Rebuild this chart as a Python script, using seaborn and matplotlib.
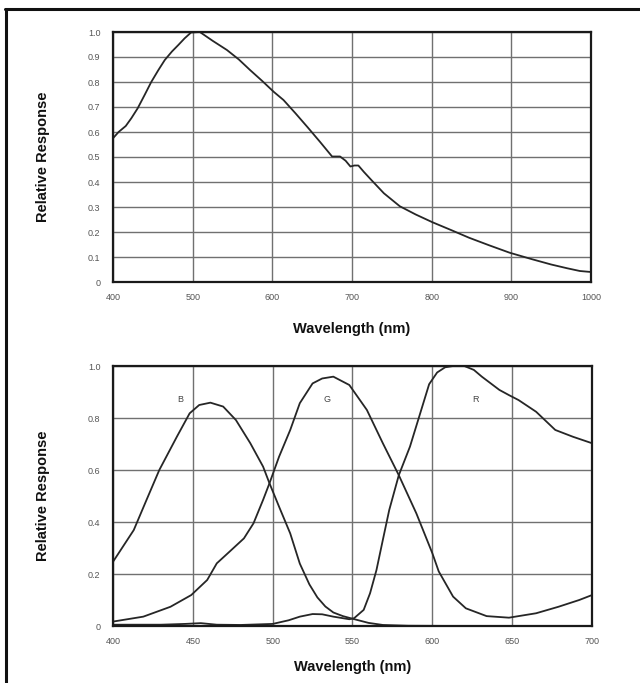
import matplotlib
matplotlib.use("Agg")
import matplotlib.pyplot as plt
import seaborn as sns
import pandas as pd
from matplotlib.lines import Line2D

# ---- data: top panel (monochrome response) ----
mono_wl = [400, 407, 416, 423, 431, 440, 448, 457, 465, 474, 482, 490, 498, 509,
           525, 543, 558, 572, 587, 602, 614, 629, 644, 660, 675, 685, 692, 698,
           703, 708, 715, 724, 740, 760, 780, 801, 825, 847, 872, 898, 925, 950,
           970, 986, 1000]
mono_resp = [0.575, 0.600, 0.624, 0.655, 0.695, 0.750, 0.800, 0.848, 0.888, 0.922,
             0.948, 0.975, 0.998, 1.000, 0.965, 0.928, 0.890, 0.848, 0.805, 0.760,
             0.728, 0.675, 0.620, 0.560, 0.502, 0.502, 0.485, 0.462, 0.466, 0.466,
             0.440, 0.409, 0.355, 0.303, 0.270, 0.239, 0.207, 0.177, 0.147, 0.117,
             0.092, 0.070, 0.055, 0.044, 0.040]

# ---- data: bottom panel (colour channels) ----
b_wl = [400, 413, 421, 429, 440, 448, 454, 461, 469, 477, 486, 494, 498, 504, 511,
        517, 523, 528, 533, 538, 544, 550, 560, 569, 585, 620, 700]
b_resp = [0.247, 0.369, 0.485, 0.600, 0.728, 0.818, 0.850, 0.859, 0.844, 0.792,
          0.703, 0.613, 0.549, 0.459, 0.356, 0.240, 0.160, 0.110, 0.075, 0.052,
          0.038, 0.028, 0.012, 0.004, 0.001, 0.0, 0.0]

g_wl = [400, 419, 436, 449, 459, 465, 473, 482, 488, 494, 498, 504, 511, 517, 525,
        531, 538, 548, 559, 569, 579, 590, 600, 604, 613, 621, 634, 648, 665, 679,
        692, 700]
g_resp = [0.017, 0.036, 0.074, 0.119, 0.177, 0.241, 0.286, 0.337, 0.395, 0.485,
          0.549, 0.651, 0.754, 0.857, 0.933, 0.952, 0.959, 0.927, 0.831, 0.703,
          0.580, 0.433, 0.280, 0.210, 0.113, 0.068, 0.038, 0.032, 0.049, 0.074,
          0.100, 0.119]

r_wl = [400, 430, 445, 455, 465, 480, 500, 510, 517, 525, 531, 538, 548, 551, 557,
        561, 565, 569, 573, 579, 586, 594, 598, 603, 608, 613, 620, 626, 631, 642,
        648, 654, 665, 677, 688, 700]
r_resp = [0.005, 0.005, 0.008, 0.011, 0.005, 0.004, 0.008, 0.022, 0.036, 0.046,
          0.045, 0.036, 0.026, 0.030, 0.062, 0.126, 0.215, 0.331, 0.446, 0.580,
          0.690, 0.850, 0.930, 0.975, 0.995, 1.000, 1.000, 0.985, 0.959, 0.908,
          0.888, 0.869, 0.824, 0.754, 0.728, 0.703]

channel_names = ["B", "G", "R"]
channel_label_x = [442, 534, 627]
channel_label_y = [0.87, 0.87, 0.87]

top_xticks = [400, 500, 600, 700, 800, 900, 1000]
top_yticks = [0, 0.1, 0.2, 0.3, 0.4, 0.5, 0.6, 0.7, 0.8, 0.9, 1.0]
top_ylabels = ["0", "0.1", "0.2", "0.3", "0.4", "0.5", "0.6", "0.7", "0.8", "0.9", "1.0"]
bot_xticks = [400, 450, 500, 550, 600, 650, 700]
bot_yticks = [0, 0.2, 0.4, 0.6, 0.8, 1.0]
bot_ylabels = ["0", "0.2", "0.4", "0.6", "0.8", "1.0"]

xlabel = "Wavelength (nm)"
ylabel = "Relative Response"

sns.set_style("white")
plt.rcParams['font.family'] = ['Liberation Sans', 'DejaVu Sans']

fig = plt.figure(figsize=(6.4, 6.83), dpi=100)
ax1 = fig.add_axes([113/640, 1 - 282/683, 478/640, 250/683])
ax2 = fig.add_axes([113/640, 1 - 626/683, 479/640, 260/683])

line_col = "#262626"
grid_col = "#707070"
tick_col = "#555555"

df_top = pd.DataFrame({"wl": mono_wl, "resp": mono_resp})
sns.lineplot(data=df_top, x="wl", y="resp", ax=ax1, color=line_col, lw=1.3)

df_bot = pd.concat([
    pd.DataFrame({"wl": b_wl, "resp": b_resp, "ch": "B"}),
    pd.DataFrame({"wl": g_wl, "resp": g_resp, "ch": "G"}),
    pd.DataFrame({"wl": r_wl, "resp": r_resp, "ch": "R"}),
])
sns.lineplot(data=df_bot, x="wl", y="resp", hue="ch", ax=ax2,
             palette=[line_col] * 3, lw=1.3, legend=False, sort=False)

for ax, xt, yt, yl, xlim in [
    (ax1, top_xticks, top_yticks, top_ylabels, (400, 1000)),
    (ax2, bot_xticks, bot_yticks, bot_ylabels, (400, 700)),
]:
    ax.set_xlim(*xlim)
    ax.set_ylim(0, 1.0)
    ax.set_xticks(xt)
    ax.set_xticklabels([str(v) for v in xt])
    ax.set_yticks(yt)
    ax.set_yticklabels(yl)
    ax.grid(True, color=grid_col, lw=1.0)
    ax.set_axisbelow(True)
    for s in ax.spines.values():
        s.set_color("#1a1a1a")
        s.set_linewidth(1.6)
        s.set_visible(True)
    ax.tick_params(axis="both", length=0, labelsize=6.5, labelcolor=tick_col)
    ax.tick_params(axis="x", pad=8)
    ax.tick_params(axis="y", pad=9)
    ax.set_xlabel(xlabel, fontsize=10.5, fontweight="bold", color="#111111")
    ax.set_ylabel(ylabel, fontsize=10.5, fontweight="bold", color="#111111")
    ax.yaxis.set_label_coords(-0.132, 0.5)

ax1.xaxis.set_label_coords(0.5, -0.16)
ax2.xaxis.set_label_coords(0.5, -0.13)

for name, x, y in zip(channel_names, channel_label_x, channel_label_y):
    ax2.text(x, y, name, fontsize=6.5, color="#444444", ha="center", va="center")

# outer frame (top and left lines)
fig.add_artist(Line2D([5/640, 1.0], [1 - 9/683, 1 - 9/683], color="#111111", lw=2.2,
                      transform=fig.transFigure))
fig.add_artist(Line2D([6/640, 6/640], [0, 1 - 9/683], color="#111111", lw=2.2,
                      transform=fig.transFigure))

fig.savefig("out.png", dpi=100, facecolor="white")
